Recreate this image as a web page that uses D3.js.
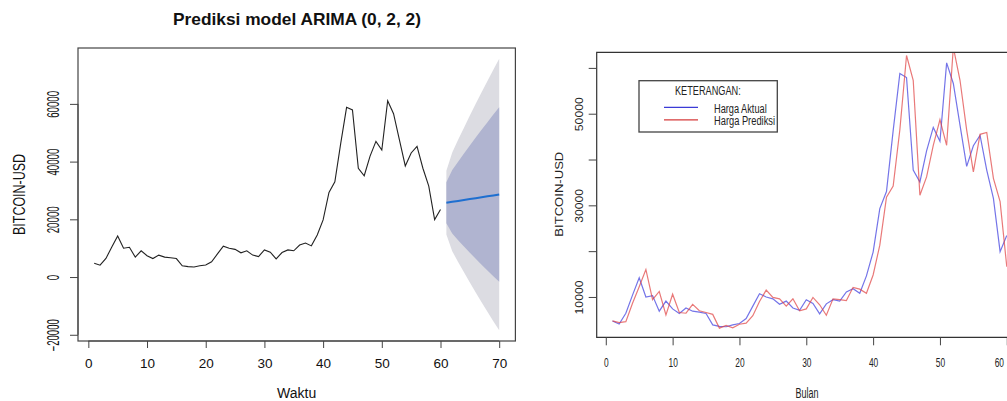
<!DOCTYPE html>
<html><head><meta charset="utf-8">
<script src="https://cdn.jsdelivr.net/npm/d3@7"></script>
<style>body{margin:0;background:#fff}svg{display:block;font-family:"Liberation Sans",Arial,sans-serif}</style>
</head><body><svg id="c" width="1007" height="401"></svg>
<script>
// ---- data ----
const months = d3.range(1, 61);
const actual = [4750,4100,6450,10400,14200,10000,10300,6900,9100,7400,
  6400,7600,6900,6700,6400,3900,3600,3500,3900,4200,
  5300,8000,10700,10000,9600,8400,9100,7600,7100,9400,
  8600,6300,8500,9400,9100,11100,11800,10800,14600,19800,
  29300,33000,46300,58800,57900,37700,35100,41900,47000,44000,
  61100,56600,47500,38500,43000,45300,37700,31500,19900,23400];
const predicted = [4770,4400,4600,8630,12240,16000,9400,11200,6100,10600,
  6600,6450,8400,7000,6600,6200,3200,3800,3250,4050,
  4300,5900,9000,11500,9900,9600,8000,9600,7000,7400,
  9900,8300,6000,9600,9400,9200,12100,11700,10800,14800,
  21300,31800,34200,46500,62700,57300,32200,36200,43100,48700,
  43100,64500,57300,46400,37300,45500,45900,35900,30800,16600];
const fcTime = d3.range(61, 71);
const fcMean = [25750,26070,26380,26700,27020,27330,27650,27970,28280,28600];
const hi80 = [32850,37070,39980,42800,45620,48330,51050,53670,56280,58800];
const lo80 = [18650,15070,12780,10600,8420,6330,4250,2270,280,-1600];
const hi95 = [36800,43190,47540,51750,55960,60010,64060,67960,71850,75600];
const lo95 = [14700,8950,5220,1650,-1920,-5350,-8760,-12020,-15290,-18400];
const leftXTicks = [0,10,20,30,40,50,60,70];
const leftYTicks = [-20000,0,20000,40000,60000];
const rightXTicks = [0,10,20,30,40,50,60];
const rightYTicks = [10000,20000,30000,40000,50000,60000];
const rightYLabels = [10000,30000,50000];
const title = "Prediksi model ARIMA (0, 2, 2)";
const legendTitle = "KETERANGAN:";
const legendNames = ["Harga Aktual","Harga Prediksi"];

const svg = d3.select("#c");
const pad = (lo, hi) => { const r = hi - lo; return [lo - 0.04*r, hi + 0.04*r]; };
function fit(sel, len){ sel.attr("textLength", len).attr("lengthAdjust","spacingAndGlyphs"); }

// ================= LEFT PANEL =================
const L = {l:78, r:515.4, t:48, b:341};
const allT = months.concat(fcTime);
const xL = d3.scaleLinear().domain(pad(d3.min(allT), d3.max(allT))).range([L.l, L.r]);
const yL = d3.scaleLinear().domain(pad(d3.min(lo95.concat(actual)), d3.max(hi95.concat(actual)))).range([L.b, L.t]);
const gL = svg.append("g");

const fc = fcTime.map((t,i)=>({t, m:fcMean[i], h8:hi80[i], l8:lo80[i], h9:hi95[i], l9:lo95[i]}));
gL.append("path").datum(fc).attr("fill","#dcdce2")
  .attr("d", d3.area().x(d=>xL(d.t)).y0(d=>yL(d.l9)).y1(d=>yL(d.h9)));
gL.append("path").datum(fc).attr("fill","#b0b4d0")
  .attr("d", d3.area().x(d=>xL(d.t)).y0(d=>yL(d.l8)).y1(d=>yL(d.h8)));
gL.append("path").datum(fc).attr("fill","none").attr("stroke","#1e6fd0").attr("stroke-width",2)
  .attr("d", d3.line().x(d=>xL(d.t)).y(d=>yL(d.m)));
gL.append("path").datum(actual).attr("fill","none").attr("stroke","#222").attr("stroke-width",1.1)
  .attr("d", d3.line().x((d,i)=>xL(months[i])).y(d=>yL(d)));

gL.append("rect").attr("x",L.l).attr("y",L.t).attr("width",L.r-L.l).attr("height",L.b-L.t)
  .attr("fill","none").attr("stroke","#444").attr("stroke-width",1.2);

const axLx = gL.append("g").attr("transform",`translate(0,${L.b})`)
  .call(d3.axisBottom(xL).tickValues(leftXTicks).tickSize(7).tickSizeOuter(0).tickFormat(d3.format("d")));
axLx.select(".domain").attr("stroke","#444").attr("d",`M${xL(0)},0H${xL(70)}`);
axLx.selectAll(".tick line").attr("stroke","#444");
axLx.selectAll("text").attr("y",27).attr("dy",0).attr("font-size",13.5).attr("fill","#111")
  .style("font-family",'"Liberation Sans",Arial,sans-serif');

const axLy = gL.append("g").attr("transform",`translate(${L.l},0)`)
  .call(d3.axisLeft(yL).tickValues(leftYTicks).tickSize(8).tickSizeOuter(0).tickFormat(d3.format("d")));
axLy.select(".domain").attr("stroke","#444").attr("d",`M0,${yL(-20000)}V${yL(60000)}`);
axLy.selectAll(".tick line").attr("stroke","#444");
axLy.selectAll("text").attr("x",0).attr("dy",0).attr("text-anchor","middle")
  .attr("transform","translate(-19,0) rotate(-90)").attr("font-size",16).attr("fill","#111")
  .style("font-family",'"Liberation Sans",Arial,sans-serif')
  .each(function(d){ fit(d3.select(this), String(d).length*5.4); });

svg.append("text").attr("x",297).attr("y",25).attr("text-anchor","middle")
  .attr("font-size",16.5).attr("font-weight","bold").attr("fill","#111").text(title).call(fit,248);
svg.append("text").attr("x",296.7).attr("y",398).attr("text-anchor","middle")
  .attr("font-size",14).attr("fill","#111").text("Waktu");
svg.append("text").attr("transform","translate(25,194.5) rotate(-90)").attr("text-anchor","middle")
  .attr("font-size",16).attr("fill","#111").text("BITCOIN-USD").call(fit,81);

// ================= RIGHT PANEL =================
const R = {l:596.7, t:52.3, b:337.3};
const xR = d3.scaleLinear().domain(pad(d3.min(months), d3.max(months))).range([R.l, R.l + (64.72*6.58)]);
const yR = d3.scaleLinear().domain(pad(d3.min(actual), d3.max(actual))).range([R.b, R.t]);
const gR = svg.append("g");
svg.append("clipPath").attr("id","clipR").append("rect")
  .attr("x",R.l).attr("y",R.t).attr("width",500).attr("height",R.b-R.t);

gR.append("path").datum(actual).attr("clip-path","url(#clipR)").attr("fill","none")
  .attr("stroke","#4646e0").attr("stroke-opacity",0.75).attr("stroke-width",1.2)
  .attr("d", d3.line().x((d,i)=>xR(months[i])).y(d=>yR(d)));
gR.append("path").datum(predicted).attr("clip-path","url(#clipR)").attr("fill","none")
  .attr("stroke","#e04040").attr("stroke-opacity",0.7).attr("stroke-width",1.2)
  .attr("d", d3.line().x((d,i)=>xR(months[i])).y(d=>yR(d)));

gR.append("path").attr("fill","none").attr("stroke","#333").attr("stroke-width",1.2)
  .attr("d",`M1010,${R.t}H${R.l}V${R.b}H1010`);

const sq = 0.62;
const axRx = gR.append("g").attr("transform",`translate(0,${R.b})`)
  .call(d3.axisBottom(xR).tickValues(rightXTicks).tickSize(8).tickSizeOuter(0).tickFormat(d3.format("d")));
axRx.select(".domain").remove();
axRx.selectAll(".tick line").attr("stroke","#444");
axRx.selectAll("text").attr("y",29.4).attr("dy",0).attr("font-size",13.5).attr("fill","#222")
  .style("font-family",'"Liberation Sans",Arial,sans-serif')
  .attr("transform",`scale(${sq},1)`);
// keep the last label inside the picture edge
axRx.selectAll(".tick").filter(d => xR(d) > 995).select("text")
  .attr("text-anchor","end").attr("x", d => (1003.5 - xR(d)) / sq);

const axRy = gR.append("g").attr("transform",`translate(${R.l},0)`)
  .call(d3.axisLeft(yR).tickValues(rightYTicks).tickSize(8).tickSizeOuter(0)
    .tickFormat(d => rightYLabels.includes(d) ? String(d) : ""));
axRy.select(".domain").remove();
axRy.selectAll(".tick line").attr("stroke","#444");
axRy.selectAll("text").attr("x",0).attr("dy",0).attr("text-anchor","middle")
  .attr("transform","translate(-13.5,0) rotate(-90)").attr("font-size",10.5).attr("fill","#222")
  .style("font-family",'"Liberation Sans",Arial,sans-serif')
  .each(function(d){ if(rightYLabels.includes(d)) fit(d3.select(this), 34); });

svg.append("text").attr("x",807).attr("y",398).attr("text-anchor","middle")
  .attr("font-size",14).attr("fill","#222").text("Bulan").call(fit,23);
svg.append("text").attr("transform","translate(562.7,194.2) rotate(-90)").attr("text-anchor","middle")
  .attr("font-size",11).attr("fill","#222").text("BITCOIN-USD").call(fit,85);

// legend
const lg = svg.append("g");
lg.append("rect").attr("x",639).attr("y",80.7).attr("width",138.3).attr("height",51.3)
  .attr("fill","#fff").attr("stroke","#444").attr("stroke-width",1.3);
lg.append("text").attr("x",675).attr("y",95).attr("font-size",13.5).attr("fill","#222").text(legendTitle).call(fit,65.7);
const legendColors = ["#3b3bd6","#d63b3b"];
const legendY = [107.3,119.8];
const legendLen = [52.7,61];
legendNames.forEach((n,i)=>{
  lg.append("line").attr("x1",664).attr("x2",698).attr("y1",legendY[i]).attr("y2",legendY[i])
    .attr("stroke",legendColors[i]).attr("stroke-width",1.2);
  lg.append("text").attr("x",714).attr("y",legendY[i]+5.2).attr("font-size",12.5).attr("fill","#222").text(n).call(fit,legendLen[i]);
});
</script></body></html>
